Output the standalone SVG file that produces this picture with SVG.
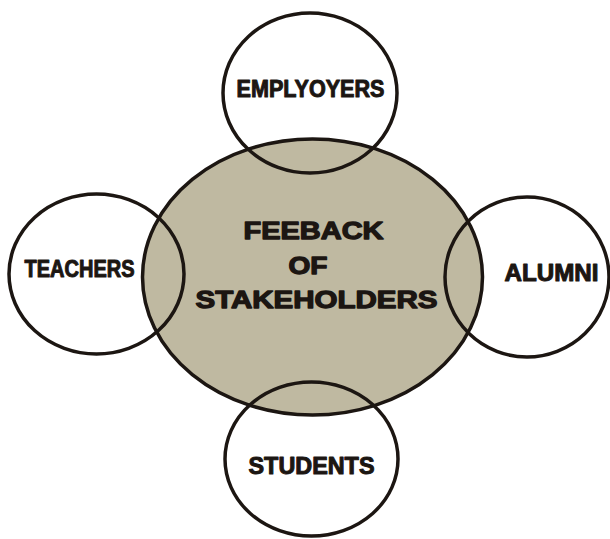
<svg xmlns="http://www.w3.org/2000/svg" width="610" height="539" viewBox="0 0 610 539">
<style>
.line{fill:none;stroke:#1c1612;stroke-width:3.5}
.hub{fill:#bfb9a1;stroke:#1c1612;stroke-width:3.5}
.lbl{font-family:"Liberation Sans",Arial,sans-serif;font-weight:bold;fill:#1c1612;stroke:#1c1612;stroke-linejoin:round;text-anchor:start}
.sat{font-size:23px;stroke-width:1}
.ctr{font-size:24.5px;stroke-width:1.3}
</style>
<rect width="610" height="539" fill="#ffffff"/>
<g id="hub">
<ellipse class="hub" cx="312.5" cy="277" rx="170" ry="138"/>
</g>
<g id="employers">
<ellipse class="line" cx="310" cy="93" rx="87" ry="80"/>
<text class="lbl sat" x="236.5" y="96.5" textLength="148" lengthAdjust="spacingAndGlyphs">EMPLYOYERS</text>
</g>
<g id="teachers">
<ellipse class="line" cx="96.5" cy="274" rx="87.5" ry="80"/>
<text class="lbl sat" x="24.5" y="276.5" textLength="110" lengthAdjust="spacingAndGlyphs">TEACHERS</text>
</g>
<g id="alumni">
<ellipse class="line" cx="527" cy="277" rx="82" ry="80"/>
<text class="lbl sat" x="504.5" y="280.5" textLength="94" lengthAdjust="spacingAndGlyphs">ALUMNI</text>
</g>
<g id="students">
<ellipse class="line" cx="311.5" cy="459" rx="86.5" ry="77"/>
<text class="lbl sat" x="248.5" y="473.5" textLength="126" lengthAdjust="spacingAndGlyphs">STUDENTS</text>
</g>
<g id="hub-label">
<text class="lbl ctr" x="243.5" y="239" textLength="140" lengthAdjust="spacingAndGlyphs">FEEBACK</text>
<text class="lbl ctr" x="288.5" y="273.5" textLength="39" lengthAdjust="spacingAndGlyphs">OF</text>
<text class="lbl ctr" x="195.5" y="307.5" textLength="242" lengthAdjust="spacingAndGlyphs">STAKEHOLDERS</text>
</g>
<g id="connectors"></g>
</svg>
